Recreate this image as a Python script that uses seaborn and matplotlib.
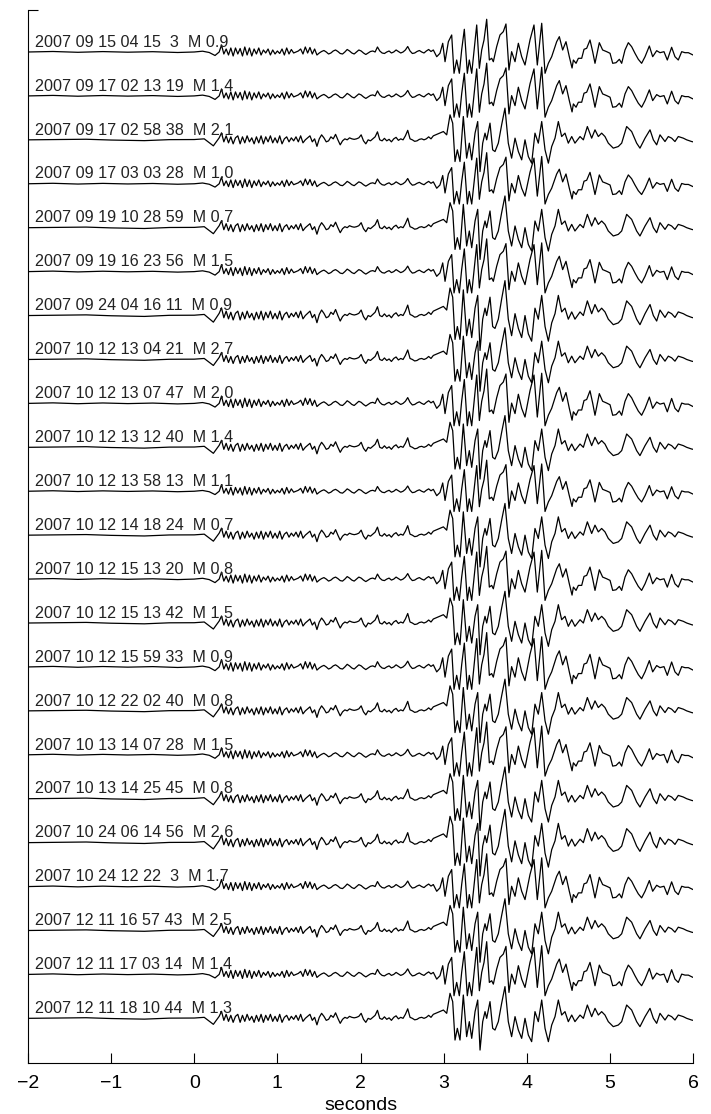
import numpy as np
import pandas as pd
import matplotlib
matplotlib.use("Agg")
import matplotlib.pyplot as plt
import seaborn as sns

# ---------------- data ----------------
event_stamps = [
    "2007 09 15 04 15  3", "2007 09 17 02 13 19", "2007 09 17 02 58 38",
    "2007 09 17 03 03 28", "2007 09 19 10 28 59", "2007 09 19 16 23 56",
    "2007 09 24 04 16 11", "2007 10 12 13 04 21", "2007 10 12 13 07 47",
    "2007 10 12 13 12 40", "2007 10 12 13 58 13", "2007 10 12 14 18 24",
    "2007 10 12 15 13 20", "2007 10 12 15 13 42", "2007 10 12 15 59 33",
    "2007 10 12 22 02 40", "2007 10 13 14 07 28", "2007 10 13 14 25 45",
    "2007 10 24 06 14 56", "2007 10 24 12 22  3", "2007 12 11 16 57 43",
    "2007 12 11 17 03 14", "2007 12 11 18 10 44",
]
magnitudes = [0.9, 1.4, 2.1, 1.0, 0.7, 1.5, 0.9, 2.7, 2.0, 1.4, 1.1, 0.7,
              0.8, 1.5, 0.9, 0.8, 1.5, 0.8, 2.6, 1.7, 2.5, 1.4, 1.3]
template_of_trace = ["A", "A", "B", "A", "B", "A", "B", "B", "A", "B", "A", "B",
                     "A", "B", "A", "B", "A", "B", "B", "A", "B", "A", "B"]
trace_gain = [1.0, 1.0, 1.0, 0.95, 1.0, 1.0, 1.1, 1.0, 1.05, 1.0, 0.95, 1.0,
              1.0, 1.0, 1.05, 1.0, 1.0, 1.0, 1.05, 1.0, 1.0, 1.0, 1.0]

# waveform template A, amplitude in counts
pre_A_t = [-2.0, -1.7, -1.4, -1.1, -0.8, -0.5, -0.2, 0.0, 0.1, 0.18, 0.25]
pre_A_amp = [0, 0.5, -0.3, 0.4, -0.2, 0.3, -0.5, 0, 0.8, -0.5, -3.5]
coda_A_amp = [0, 7, -2, 3, -3, 4, -4, 4, -2, 3.5, -4, 5, -3, 4, -4, 3, -2, 4, -3, 2,
              -1, 3, -3, 2, -2,
              1, -1.5, 3, -3, 4, -2, 2.5, -1, 0, 1, 3, -2, 5, -1, 4.5, -2, 3, -3,
              -1, 0.5, 1.5, 0, -2, -1, 1, 2, 0.5, -1.5, -2, 0, 2.5, 1, -1, -2, 0, 2,
              1, -1, -2.5, -1, 0.5, 1, 0, 5, 1, -1, -1.5, 0, 1, -1, 0, 2, 0.5, -1, 0,
              2, 5.5, 1, -1.5, -1, 0.5, 1.5, 0, -1, 1, 2.5, 0.5, 2]
s_A_t = [2.917, 2.956, 2.989, 3.017, 3.057, 3.097, 3.125, 3.157, 3.189, 3.217, 3.249,
         3.285, 3.309, 3.338, 3.370, 3.398, 3.430, 3.458, 3.486, 3.518, 3.550, 3.578,
         3.598, 3.638, 3.678, 3.718, 3.750, 3.786, 3.818, 3.859, 3.899, 3.939, 3.979,
         4.039, 4.087, 4.127, 4.180, 4.220, 4.260, 4.300, 4.360, 4.392, 4.432, 4.472,
         4.512, 4.545, 4.561, 4.593, 4.621, 4.661, 4.689, 4.721, 4.761, 4.793, 4.821,
         4.873, 4.913, 4.962, 5.002, 5.034, 5.074, 5.114, 5.142, 5.182, 5.222, 5.262,
         5.302, 5.342, 5.382, 5.423, 5.475, 5.515, 5.563, 5.603, 5.651, 5.691, 5.743,
         5.783, 5.823, 5.864, 5.904, 5.944, 6.0]
s_A_amp = [-4.7, -1.3, 8.7, -9.7, 10.3, 17, -21.3, -8, -21.3, 2, 22.7,
           -21.3, -8, -21.3, 5, 27, -16.3, 2, 12, 32.7, -8, -6.3,
           -9.7, 5.3, 17, 20.3, 28, -18, 0.3, -9.7, 8.7, -4.7, -13,
           12, 27, -13, 28.7, -21.3, -11.3, -4.7, 10.3, 15.3, 2, 10.3,
           -4.7, -16, -8, -11.3, -6.3, -6.3, 2.7, 3.7, 12, 0.3, -11.3,
           9.3, 2, 0.3, -1.3, -11.3, -10.7, -7.3, -11.3, 2, 9.3, 5.3,
           -1.3, -7.3, -11.3, -4.7, 6, -4.7, 1.3, -0.7, 0.3, -8, 4.7,
           -4.7, -8, 0.3, -0.7, -0.7, -3]

# waveform template B
pre_B_t = [-2.0, -1.6, -1.3, -1.0, -0.6, -0.3, 0.0, 0.12, 0.23]
pre_B_amp = [0, 0.4, 0.6, -0.2, -0.8, 0.2, 0.3, 1.0, -6.0]
coda_B_amp = [2, 7, -2, 4, -3, 3, -4, 2, 4, -4, 3, -3, 4, -2, 2, -4, 3, -3, 4, -4,
              3, -2, 4, -3, 2,
              -3, 4, -4, 1, 3, -2, 2, -1, 3, -2, 4, -3, 0, 2, 4, -2, 1, -6.5,
              1, 5, 2, -2, -1, 3, 1, 5.5, 0, -5, -1, 1, 0, 2, 1, 0.5, 1, 2, 5, -1,
              -4, 0, -1, 1, 3, 8, 0, -1, 1.5, -1, 0.5, -2, 1, 2.5, -0.5, 1, 0, 4, 9.5, 1,
              0, -1.5, -1, 0.5, 1, 0, 1, 3, 1, 4]
s_B_t = [2.997, 3.037, 3.077, 3.109, 3.137, 3.165, 3.197, 3.237, 3.277, 3.309, 3.338,
         3.378, 3.410, 3.438, 3.470, 3.498, 3.518, 3.558, 3.590, 3.618, 3.658, 3.698,
         3.738, 3.778, 3.818, 3.859, 3.899, 3.939, 3.979, 4.019, 4.059, 4.099, 4.139,
         4.180, 4.220, 4.260, 4.300, 4.340, 4.380, 4.420, 4.460, 4.500, 4.541, 4.580,
         4.641, 4.681, 4.729, 4.781, 4.821, 4.861, 4.901, 4.941, 4.981, 5.041, 5.101,
         5.142, 5.202, 5.262, 5.322, 5.362, 5.423, 5.483, 5.523, 5.563, 5.603, 5.663,
         5.703, 5.743, 5.783, 5.823, 5.883, 5.924, 5.984, 6.0]
s_B_amp = [8.3, 5, 25, 16.7, -21.7, -10, -21.7, 23.3, -18.3, -3.3, -20,
           6.7, 18.3, -31.7, -3.3, 6.7, 0, 16.7, -10, -11.7, -3.3, 15,
           31.7, -3.3, -18.3, 1.7, -11.7, -20, 0, -16.7, -23.3, 6.7, -3.3,
           18.3, -10, -23.3, -6.7, 1.7, 18.3, 3.3, 6.7, -3.3, 3.3, -3.3,
           3.3, 0, 13.3, 1.7, 10, 3.3, 6.7, 3.3, -3.3, -8.3, -6.7,
           -3.3, 13.3, 8.3, -3.3, -8.3, 1.7, 10, 0, -5, 5, -1.7,
           3.3, 1.7, -1.7, 3.3, 1.7, 0, -1.7, -2]

CODA_T0 = 0.30
CODA_DT = 0.028

# ---------------- style ----------------
sns.set_theme(style="ticks")
plt.rcParams['font.family'] = ['Liberation Sans', 'DejaVu Sans']

AMP_PER_SPACING = 43.9  # counts per trace spacing


def build(pre_t, pre_a, coda_a, s_t, s_a):
    coda_t = CODA_T0 + CODA_DT * np.arange(len(coda_a))
    t = np.concatenate([pre_t, coda_t, s_t])
    a = np.concatenate([pre_a, coda_a, s_a])
    return t, a


templates = {
    "A": build(pre_A_t, pre_A_amp, coda_A_amp, s_A_t, s_A_amp),
    "B": build(pre_B_t, pre_B_amp, coda_B_amp, s_B_t, s_B_amp),
}

frames = []
for i, (tid, g) in enumerate(zip(template_of_trace, trace_gain)):
    t, a = templates[tid]
    frames.append(pd.DataFrame({"t": t, "y": -i + np.asarray(a) * g / AMP_PER_SPACING,
                                "trace": i}))
df = pd.concat(frames, ignore_index=True)

W, H = 711, 1114
fig = plt.figure(figsize=(W / 100, H / 100), dpi=100)
ax_left, ax_right, ax_top, ax_bottom = 28, 693, 10, 1062.7
ax = fig.add_axes([ax_left / W, 1 - ax_bottom / H, (ax_right - ax_left) / W,
                   (ax_bottom - ax_top) / H])

sns.lineplot(data=df, x="t", y="y", units="trace", estimator=None, sort=False,
             color="black", linewidth=0.9, ax=ax, legend=False)

for i, (stamp, mag) in enumerate(zip(event_stamps, magnitudes)):
    ax.text(-1.916, -i + 0.12, f"{stamp}  M {mag:.1f}", fontsize=11.6,
            color="#222222", va="baseline", ha="left")

y_top = 0.956
y_bot = -23.01
ax.set_xlim(-2, 6)
ax.set_ylim(y_bot, y_top)
ax.set_xticks(range(-2, 7))
ax.set_yticks([y_top])
ax.set_yticklabels([])
ax.tick_params(axis="both", direction="in", length=7, width=0.8, colors="black",
               labelsize=14, pad=8.5)
for s in ["top", "right"]:
    ax.spines[s].set_visible(False)
for s in ["left", "bottom"]:
    ax.spines[s].set_color("black")
    ax.spines[s].set_linewidth(0.8)
ax.set_xlabel("seconds", fontsize=14, labelpad=4, color="black")
ax.set_ylabel("")
ax.set_facecolor("white")

fig.savefig("out.png", dpi=100, facecolor="white")
